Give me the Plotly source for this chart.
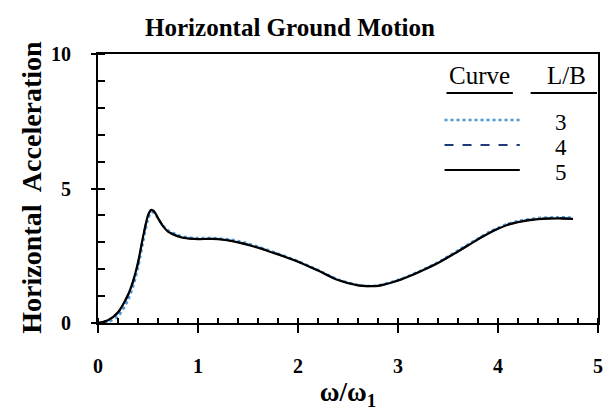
import plotly.graph_objects as go

# Frequency ratio omega/omega_1
freq_ratio = [0, 0.1, 0.2, 0.3, 0.35, 0.4, 0.45, 0.5, 0.53, 0.56, 0.6, 0.65, 0.7,
              0.8, 0.9, 1.0, 1.2, 1.4, 1.6, 1.8, 2.0, 2.2, 2.4, 2.6, 2.7, 2.8,
              3.0, 3.2, 3.4, 3.6, 3.8, 3.9, 4.0, 4.1, 4.2, 4.4, 4.6, 4.75]

# Horizontal acceleration for each L/B ratio
accel_lb3 = [0, 0.04, 0.25, 0.85, 1.35, 2.05, 3.0, 3.85, 4.1, 4.1, 3.9, 3.62, 3.45,
             3.27, 3.18, 3.16, 3.15, 3.05, 2.84, 2.58, 2.30, 1.97, 1.62, 1.41, 1.38, 1.40,
             1.60, 1.90, 2.26, 2.70, 3.14, 3.36, 3.54, 3.69, 3.79, 3.90, 3.93, 3.92]
accel_lb4 = [0, 0.09, 0.38, 1.02, 1.52, 2.22, 3.17, 3.98, 4.19, 4.15, 3.9, 3.6, 3.41,
             3.23, 3.15, 3.13, 3.12, 3.01, 2.81, 2.56, 2.28, 1.95, 1.60, 1.40, 1.37, 1.38,
             1.58, 1.88, 2.24, 2.67, 3.12, 3.33, 3.51, 3.66, 3.76, 3.87, 3.90, 3.88]
accel_lb5 = [0, 0.10, 0.40, 1.05, 1.55, 2.25, 3.2, 4.0, 4.2, 4.15, 3.9, 3.6, 3.4,
             3.22, 3.14, 3.12, 3.12, 3.0, 2.80, 2.55, 2.28, 1.95, 1.60, 1.40, 1.37, 1.38,
             1.58, 1.88, 2.23, 2.66, 3.11, 3.32, 3.50, 3.65, 3.75, 3.86, 3.89, 3.87]

x_ticks = [0, 1, 2, 3, 4, 5]
y_ticks = [0, 5, 10]
lb_labels = ["3", "4", "5"]
series = [accel_lb3, accel_lb4, accel_lb5]
colors = ["#4a9ad8", "#1f3a7a", "#000000"]
dashes = ["dot", "dash", "solid"]
widths = [2.5, 2, 2.2]

SERIF = "Liberation Serif, Times New Roman, serif"
W, H = 615, 416
L, R, T, B = 98, 12, 54, 93
PW, PH = W - L - R, H - T - B


def px(x):
    return (x - L) / PW


def py(y):
    return (H - B - y) / PH


fig = go.Figure()
for ys, c, d, w, lb in zip(series, colors, dashes, widths, lb_labels):
    fig.add_trace(go.Scatter(
        x=freq_ratio, y=ys, mode="lines", name=f"L/B = {lb}",
        line=dict(color=c, dash=d, width=w, shape="spline", smoothing=0.8),
        showlegend=False))

# overlay axes carrying the inward half of the major ticks
fig.add_trace(go.Scatter(x=[None], y=[None], xaxis="x2", yaxis="y2", showlegend=False))

tick_font = dict(family=SERIF, size=20, color="black")
fig.update_layout(
    width=W, height=H, margin=dict(l=L, r=R, t=T, b=B),
    paper_bgcolor="white", plot_bgcolor="white",
    title=dict(text="<b>Horizontal Ground Motion</b>", x=290 / W, xanchor="center",
               y=1 - 27 / H, yanchor="middle",
               font=dict(family=SERIF, size=25, color="black")),
    xaxis=dict(range=[0, 5], tickmode="array", tickvals=x_ticks,
               ticktext=[f"<b>{v}</b>" for v in x_ticks],
               showgrid=False, zeroline=False,
               showline=True, linecolor="black", linewidth=2, mirror=True,
               ticks="outside", ticklen=8, tickwidth=2, tickcolor="black",
               minor=dict(dtick=0.2, tick0=0, ticks="inside", ticklen=5, tickwidth=1.5,
                          tickcolor="black", showgrid=False),
               tickfont=tick_font, ticklabelstandoff=16,
               title=dict(text="<b>ω/ω<sub>1</sub></b>", standoff=6,
                          font=dict(family=SERIF, size=27, color="black"))),
    yaxis=dict(range=[0, 10], tickmode="array", tickvals=y_ticks,
               ticktext=[f"<b>{v}</b>" for v in y_ticks],
               showgrid=False, zeroline=False,
               showline=True, linecolor="black", linewidth=2, mirror=True,
               ticks="outside", ticklen=5, tickwidth=2, tickcolor="black",
               minor=dict(dtick=1, tick0=0, ticks="inside", ticklen=7, tickwidth=1.5,
                          tickcolor="black", showgrid=False),
               tickfont=tick_font, ticklabelstandoff=16),
    xaxis2=dict(range=[0, 5], dtick=1, overlaying="x", showticklabels=False,
                ticks="inside", ticklen=5, tickwidth=2, tickcolor="black",
                showgrid=False, zeroline=False, showline=False),
    yaxis2=dict(range=[0, 10], dtick=5, overlaying="y", showticklabels=False,
                ticks="inside", ticklen=7, tickwidth=2, tickcolor="black",
                showgrid=False, zeroline=False, showline=False),
)

fig.add_annotation(text="<b>Horizontal  Acceleration</b>", textangle=-90,
                   xref="paper", yref="paper", x=px(30), y=py(187),
                   xanchor="center", yanchor="middle", showarrow=False,
                   font=dict(family=SERIF, size=28, color="black"))

# key inset in the upper right corner
fig.add_annotation(text="Curve", xref="paper", yref="paper", x=px(483), y=py(75),
                   xanchor="center", yanchor="middle", showarrow=False,
                   font=dict(family=SERIF, size=25, color="black"))
fig.add_annotation(text="L/B", xref="paper", yref="paper", x=px(571), y=py(75),
                   xanchor="center", yanchor="middle", showarrow=False,
                   font=dict(family=SERIF, size=25, color="black"))
for x0, x1 in [(450, 517), (535, 602)]:
    fig.add_shape(type="line", xref="paper", yref="paper",
                  x0=px(x0), x1=px(x1), y0=py(93), y1=py(93),
                  line=dict(color="black", width=2))
for i, (c, d, w, lb) in enumerate(zip(colors, dashes, widths, lb_labels)):
    yy = [120, 145, 170][i]
    fig.add_shape(type="line", xref="paper", yref="paper",
                  x0=px(448), x1=px(524), y0=py(yy), y1=py(yy),
                  line=dict(color=c, dash=d, width=w))
    fig.add_annotation(text=lb, xref="paper", yref="paper", x=px(566), y=py(yy + 2),
                       xanchor="center", yanchor="middle", showarrow=False,
                       font=dict(family=SERIF, size=23, color="black"))

fig.write_html("out.html")
